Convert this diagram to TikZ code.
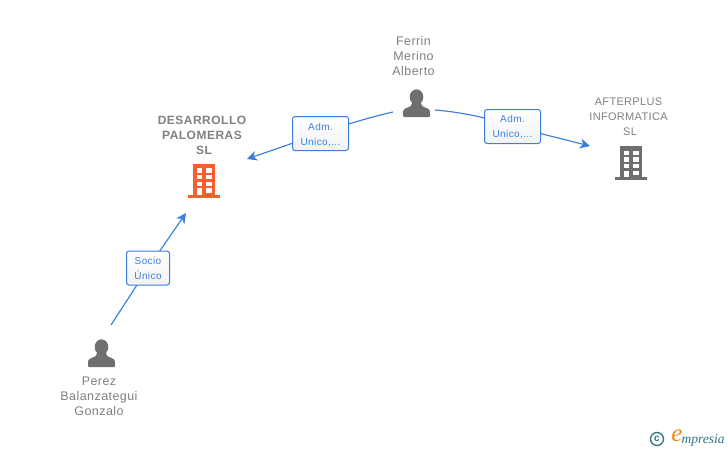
\documentclass[tikz,border=0pt]{standalone}
\usepackage{fontspec}
\setmainfont{Liberation Sans}
\newfontfamily\logofont{Liberation Serif}
\newfontfamily\namefont[LetterSpace=3.5]{Liberation Sans}
\newfontfamily\compfont[LetterSpace=3]{Liberation Sans}
\newfontfamily\boldfont[LetterSpace=4,BoldFont={Liberation Sans Bold}]{Liberation Sans}
\newfontfamily\boxfont[LetterSpace=4]{Liberation Sans}
\usetikzlibrary{arrows.meta,backgrounds}
\definecolor{edgeblue}{HTML}{3B7FDD}
\definecolor{txtgrey}{HTML}{808080}
\definecolor{icongrey}{HTML}{6F6F6F}
\definecolor{orangeicon}{HTML}{FF5C2E}
\definecolor{logoteal}{HTML}{2F7488}
\definecolor{logoorange}{HTML}{F08A1D}
\tikzset{
  edgebox/.style={draw=edgeblue,line width=1pt,rounded corners=2.5pt,top color=white,bottom color=white!95!black,
    minimum width=56pt,minimum height=34pt,inner sep=0pt,align=center,text=edgeblue,
    font=\boxfont\fontsize{10}{15}\selectfont},
  edgeline/.style={draw=edgeblue,line width=1.15pt},
  tiparrow/.style={edgeline,-{Stealth[length=10pt,width=10pt,inset=3pt]}},
  namelabel/.style={align=center,text=txtgrey,inner sep=0pt,font=\namefont\fontsize{12.5}{15}\selectfont},
  companylabel/.style={align=center,text=txtgrey,inner sep=0pt,font=\boldfont\fontsize{12}{15}\selectfont\bfseries},
  complabel/.style={align=center,text=txtgrey,inner sep=0pt,font=\compfont\fontsize{11}{15}\selectfont},
  iconanchor/.style={inner sep=0pt,minimum size=1pt}
}
\newcommand{\personicon}[1]{%
  \fill[icongrey,shift={(#1)}] (0,-20) ellipse [x radius=6.8,y radius=7.7];
  \fill[icongrey,shift={(#1)},rounded corners=1pt] (-13.5,0) -- (-13.5,-5) .. controls (-13,-9) and (-7,-9.5) .. (-5,-12)
     -- (-4,-17) -- (4,-17) -- (5,-12) .. controls (7,-9.5) and (13,-9) .. (13.5,-5) -- (13.5,0) -- cycle;
}
\newcommand{\buildingicon}[2]{%
  \begin{scope}[shift={(#1)}]
    \fill[#2] (-11,-34) rectangle (11,0);
    \fill[#2] (-16,-2.7) rectangle (16,0);
    \fill[white] (-7.3,-29.5) rectangle (-2.2,-25);
    \fill[white] (2,-29.5) rectangle (7.5,-25);
    \fill[white] (-7.3,-23) rectangle (-2.2,-18.5);
    \fill[white] (2,-23) rectangle (7.5,-18.5);
    \fill[white] (-7.3,-16) rectangle (-2.2,-11.7);
    \fill[white] (2,-16) rectangle (7.5,-11.7);
    \fill[white] (-7.3,-9.5) rectangle (-2.2,-2.7);
    \fill[white] (2,-9.5) rectangle (7.5,-5);
  \end{scope}
}
\begin{document}
\begin{tikzpicture}[x=1pt,y=-1pt]
\useasboundingbox (0,0) rectangle (728,450);
% icons
\node[iconanchor] (ferrin) at (416.5,117) {};
\node[iconanchor] (perez) at (101.5,367) {};
\node[iconanchor] (desarrollo) at (204,197.5) {};
\node[iconanchor] (afterplus) at (631,180) {};
\personicon{ferrin}
\personicon{perez}
\buildingicon{desarrollo}{orangeicon}
\buildingicon{afterplus}{icongrey}
% labels
\node[namelabel] (ferrinlabel) at (413.5,56) {Ferrin\\Merino\\Alberto};
\node[namelabel] (perezlabel) at (99,396) {Perez\\Balanzategui\\Gonzalo};
\node[companylabel] (desarrollolabel) at (202,135) {DESARROLLO\\PALOMERAS\\\hspace{4pt}SL};
\node[complabel] (afterpluslabel) at (628.5,116.5) {AFTERPLUS\\INFORMATICA\\\hspace{3pt}SL};
% edge boxes
\node[edgebox] (box1) at (320.5,133.5) {\rule{0pt}{11.2pt}Adm.\\Unico,...};
\node[edgebox] (box2) at (512.5,126.5) {\rule{0pt}{9.2pt}Adm.\\Unico,...};
\node[edgebox,minimum width=43pt] (box3) at (148,268) {Socio\\Único};
% free ends
\coordinate (f1) at (393,112);
\coordinate (t1) at (247,159);
\coordinate (f2) at (435,110);
\coordinate (t2) at (590,146);
\coordinate (f3) at (111,325);
\coordinate (t3) at (186,213);
\begin{scope}[on background layer]
  \draw[edgeline] (f1) .. controls (375,116) and (350,123) .. (box1.center);
  \draw[tiparrow] (box1.center) -- (t1);
  \draw[edgeline] (f2) .. controls (460,112) and (490,118) .. (box2.center);
  \draw[tiparrow] (box2.center) -- (t2);
  \draw[edgeline] (f3) -- (box3.center);
  \draw[tiparrow] (box3.center) -- (t3);
\end{scope}
% logo
\node[circle,draw=logoteal,line width=1.3pt,minimum size=13pt,inner sep=0pt,text=logoteal,font=\bfseries\fontsize{10}{10}\selectfont] (copyright) at (657,439) {c};
\node[inner sep=0pt,text=logoorange,font=\logofont\itshape\fontsize{25}{25}\selectfont] (logoe) at (677,436) {e};
\node[inner sep=0pt,text=logoteal,anchor=west,font=\logofont\itshape\fontsize{13.5}{14}\selectfont] (logotext) at (681.5,440) {mpresia};
\end{tikzpicture}
\end{document}
